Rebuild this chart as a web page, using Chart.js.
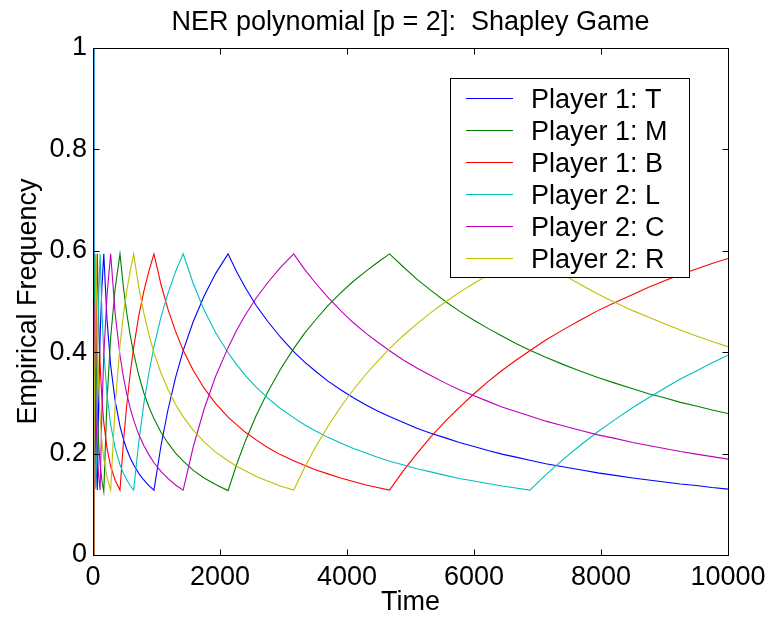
<!DOCTYPE html>
<html><head><meta charset="utf-8">
<script src="https://cdn.jsdelivr.net/npm/chart.js@4.4.0/dist/chart.umd.min.js"></script>
<style>html,body{margin:0;padding:0;background:#fff;overflow:hidden}</style>
</head><body>
<canvas id="c" width="773" height="619"></canvas>
<script>
// ---- data ----
const times = [0,15,31,48,68,90,112,140,170,220, 278,350,425,480,530,585,640,720,800,880, 960,1070,1180,1300,1420,1580,1750,1930,2127,2260, 2400,2570,2750,2950,3160,3330,3500,3700,3900,4100, 4300,4480,4670,4880,5100,5320,5550,5770,6000,6220, 6440,6660,6880,7130,7400,7670,7950,8220,8500,8750, 9000,9250,9500,9750,10000];
const player1T = [1.0,0.45,0.27,0.175,0.128,0.318,0.433,0.527,0.594,0.465, 0.374,0.303,0.254,0.228,0.209,0.192,0.178,0.161,0.148,0.137, 0.128,0.215,0.286,0.350,0.403,0.461,0.511,0.555,0.594,0.559, 0.527,0.492,0.461,0.430,0.401,0.381,0.363,0.343,0.326,0.310, 0.296,0.284,0.273,0.262,0.250,0.240,0.231,0.222,0.214,0.206, 0.199,0.193,0.187,0.180,0.174,0.168,0.162,0.157,0.152,0.148, 0.144,0.140,0.137,0.133,0.130];
const player1M = [0,0.40,0.594,0.391,0.282,0.218,0.179,0.147,0.125,0.303, 0.429,0.527,0.594,0.527,0.478,0.434,0.398,0.355,0.320,0.292, 0.269,0.242,0.221,0.201,0.185,0.167,0.152,0.139,0.127,0.178, 0.225,0.275,0.321,0.366,0.407,0.437,0.463,0.492,0.517,0.540, 0.560,0.577,0.594,0.569,0.544,0.522,0.500,0.481,0.463,0.447, 0.432,0.417,0.404,0.390,0.376,0.363,0.350,0.339,0.328,0.318, 0.310,0.301,0.294,0.286,0.279];
const player1B = [0,0.15,0.13,0.432,0.594,0.458,0.376,0.309,0.261,0.211, 0.175,0.147,0.128,0.224,0.294,0.357,0.409,0.471,0.520,0.560, 0.594,0.534,0.485,0.441,0.404,0.364,0.329,0.299,0.272,0.257, 0.242,0.227,0.212,0.198,0.186,0.177,0.168,0.160,0.152,0.145, 0.138,0.133,0.128,0.165,0.200,0.233,0.264,0.291,0.318,0.342, 0.364,0.384,0.403,0.424,0.444,0.463,0.482,0.498,0.514,0.528, 0.541,0.553,0.564,0.575,0.585];
const player2L = [1.0,0.30,0.18,0.135,0.371,0.510,0.594,0.481,0.401,0.317, 0.257,0.210,0.178,0.161,0.149,0.137,0.128,0.222,0.298,0.359, 0.411,0.469,0.516,0.559,0.594,0.535,0.483,0.439,0.399,0.376, 0.354,0.331,0.310,0.289,0.271,0.257,0.245,0.232,0.221,0.210, 0.201,0.193,0.185,0.178,0.170,0.164,0.157,0.151,0.146,0.141, 0.136,0.132,0.128,0.158,0.188,0.216,0.243,0.267,0.291,0.310, 0.329,0.347,0.363,0.379,0.394];
const player2C = [0,0.50,0.409,0.271,0.198,0.154,0.128,0.284,0.394,0.511, 0.594,0.475,0.394,0.350,0.319,0.290,0.266,0.238,0.216,0.198, 0.182,0.165,0.151,0.138,0.128,0.214,0.288,0.352,0.409,0.443, 0.474,0.507,0.537,0.567,0.594,0.564,0.537,0.508,0.482,0.458, 0.437,0.420,0.403,0.385,0.369,0.354,0.339,0.326,0.314,0.303, 0.292,0.283,0.274,0.264,0.255,0.246,0.237,0.230,0.222,0.216, 0.210,0.204,0.199,0.194,0.189];
const player2R = [0,0.20,0.41,0.594,0.428,0.331,0.272,0.224,0.190,0.154, 0.128,0.298,0.413,0.475,0.520,0.560,0.594,0.529,0.477,0.435, 0.399,0.359,0.327,0.297,0.273,0.246,0.223,0.203,0.186,0.175, 0.166,0.155,0.146,0.136,0.128,0.172,0.212,0.254,0.292,0.326, 0.357,0.382,0.407,0.432,0.456,0.478,0.499,0.518,0.536,0.552, 0.567,0.581,0.594,0.573,0.553,0.534,0.515,0.498,0.482,0.469, 0.456,0.444,0.432,0.421,0.411];
const seriesNames = ['Player 1: T','Player 1: M','Player 1: B','Player 2: L','Player 2: C','Player 2: R'];
const xTicks = [0, 2000, 4000, 6000, 8000, 10000];
const yTicks = [0, 0.2, 0.4, 0.6, 0.8, 1];
const titleText = 'NER polynomial [p = 2]:  Shapley Game';
const xTitle = 'Time';
const yTitle = 'Empirical Frequency';

// ---- styling ----
const seriesValues = [player1T, player1M, player1B, player2L, player2C, player2R];
const seriesColors = ['#0000ff', '#008000', '#ff0000', '#00bfbf', '#bf00bf', '#bfbf00'];
const FONT = '"Liberation Sans", Arial, Helvetica, sans-serif';
const FS = 27;

const datasets = seriesValues.map((vals, i) => ({
  label: seriesNames[i],
  data: times.map((t, k) => ({x: t, y: vals[k]})),
  borderColor: seriesColors[i],
  backgroundColor: seriesColors[i],
  borderWidth: 1.1,
  pointRadius: 0,
  tension: 0,
  fill: false,
  order: seriesValues.length - i
}));

const TL = 6;
const decor = {
  id: 'decor',
  afterDatasetsDraw(chart) {
    const {ctx, chartArea: a, scales: {x, y}} = chart;
    ctx.save();
    ctx.strokeStyle = '#000';
    ctx.lineWidth = 1;
    const L = Math.round(a.left) + 0.5, R = Math.round(a.right) + 0.5;
    const T = Math.round(a.top) + 0.5, B = Math.round(a.bottom) + 0.5;
    ctx.strokeRect(L, T, R - L, B - T);
    ctx.beginPath();
    xTicks.forEach(v => {
      const px = Math.round(x.getPixelForValue(v)) + 0.5;
      ctx.moveTo(px, B); ctx.lineTo(px, B - TL);
      ctx.moveTo(px, T); ctx.lineTo(px, T + TL);
    });
    yTicks.forEach(v => {
      const py = Math.round(y.getPixelForValue(v)) + 0.5;
      ctx.moveTo(L, py); ctx.lineTo(L + TL, py);
      ctx.moveTo(R, py); ctx.lineTo(R - TL, py);
    });
    ctx.stroke();
    // title
    ctx.fillStyle = '#000';
    ctx.font = FS + 'px ' + FONT;
    ctx.textAlign = 'center';
    ctx.textBaseline = 'alphabetic';
    ctx.fillText(titleText, (a.left + a.right) / 2, 30);
    // legend
    const lx = 450.5, ly = 78.5, lw = 239, lh = 199;
    ctx.fillStyle = '#fff';
    ctx.fillRect(lx, ly, lw, lh);
    ctx.strokeStyle = '#000';
    ctx.strokeRect(lx, ly, lw, lh);
    ctx.textAlign = 'left';
    seriesNames.forEach((n, i) => {
      const ry = 98.5 + i * 32;
      ctx.strokeStyle = seriesColors[i];
      ctx.beginPath();
      ctx.moveTo(466, ry); ctx.lineTo(513, ry);
      ctx.stroke();
      ctx.fillStyle = '#000';
      ctx.fillText(n, 531, ry + 9.5);
    });
    ctx.restore();
  }
};

new Chart(document.getElementById('c'), {
  type: 'line',
  data: {datasets},
  options: {
    responsive: false,
    animation: false,
    devicePixelRatio: 1,
    layout: {padding: {left: 0, right: 45, top: 48, bottom: 0}},
    plugins: {legend: {display: false}, title: {display: false}, tooltip: {enabled: false}},
    scales: {
      x: {
        type: 'linear', min: 0, max: 10000,
        afterBuildTicks: s => { s.ticks = xTicks.map(v => ({value: v})); },
        afterFit: s => { s.height = 64; },
        grid: {display: false, drawTicks: false},
        border: {display: false},
        ticks: {color: '#000', font: {family: FONT, size: FS}, padding: 6, maxRotation: 0, autoSkip: false,
                callback: v => String(v)},
        title: {display: true, text: xTitle, color: '#000', font: {family: FONT, size: FS}, padding: {top: 0, bottom: 0}}
      },
      y: {
        type: 'linear', min: 0, max: 1,
        afterBuildTicks: s => { s.ticks = yTicks.map(v => ({value: v})); },
        afterFit: s => { s.width = 93; },
        grid: {display: false, drawTicks: false},
        border: {display: false},
        ticks: {color: '#000', font: {family: FONT, size: FS}, padding: 6, autoSkip: false,
                callback: v => String(Math.round(v * 10) / 10)},
        title: {display: true, text: yTitle, color: '#000', font: {family: FONT, size: FS}, padding: {top: 12, bottom: 0}}
      }
    }
  },
  plugins: [decor]
});
</script>
</body></html>
